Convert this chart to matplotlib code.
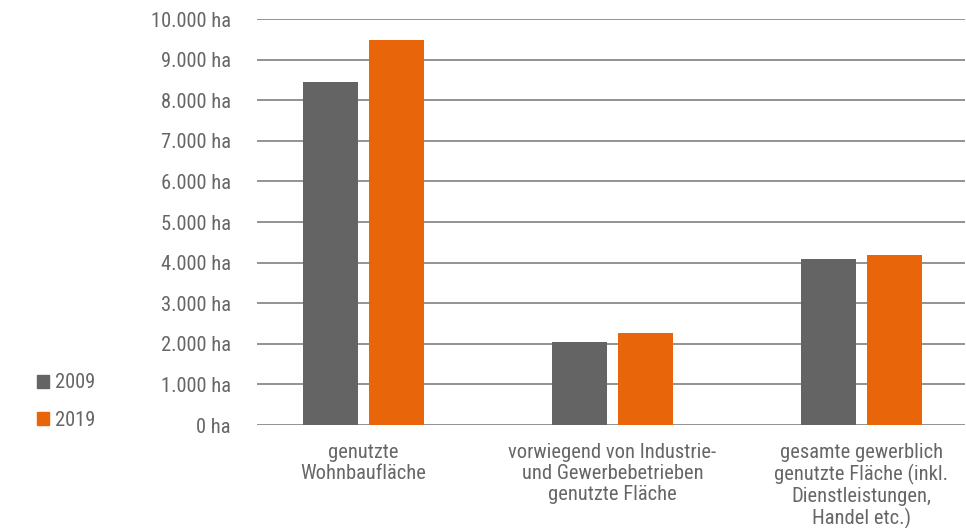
import matplotlib
matplotlib.use('Agg')
import matplotlib.pyplot as plt
from matplotlib.patches import Patch
from matplotlib.ticker import FuncFormatter

plt.rcParams['font.family'] = ['Roboto Condensed', 'Liberation Sans Narrow', 'DejaVu Sans']

# data
categories = ['genutzte\nWohnbaufläche',
              'vorwiegend von Industrie-\nund Gewerbebetrieben\ngenutzte Fläche',
              'gesamte gewerblich\ngenutzte Fläche (inkl.\nDienstleistungen,\nHandel etc.)']
years = ['2009', '2019']
values_2009 = [8450, 2040, 4090]
values_2019 = [9480, 2270, 4190]

gray = '#646464'
orange = '#e8650a'
text_color = '#666666'

fig = plt.figure(figsize=(9.66, 5.28), dpi=100)
ax = fig.add_axes([0.266, 0.195, 0.733, 0.769])

x = list(range(len(categories)))
w = 0.221
off = 0.1325
ax.bar([i - off for i in x], values_2009, width=w, color=gray, zorder=3)
ax.bar([i + off for i in x], values_2019, width=w, color=orange, zorder=3)

ax.set_ylim(0, 10000)
ax.set_xlim(-0.428, 2.416)
ax.set_yticks(range(0, 10001, 1000))
ax.yaxis.set_major_formatter(FuncFormatter(lambda v, p: f"{int(v):,} ha".replace(',', '.')))
ax.yaxis.grid(True, color='#8a8a8a', linewidth=1.3, zorder=0)
ax.set_xticks(x)
ax.set_xticklabels(categories, linespacing=1.12)
ax.tick_params(axis='both', length=0, labelsize=14.8, colors=text_color)
ax.tick_params(axis='y', pad=19)
ax.tick_params(axis='x', pad=13)
for s in ax.spines.values():
    s.set_visible(False)

handles = [Patch(color=gray), Patch(color=orange)]
fig.legend(handles, years, loc='upper left', bbox_to_anchor=(0.019, 0.328),
           frameon=False, fontsize=14.8, labelcolor=text_color,
           handlelength=0.6, handleheight=0.6, handletextpad=0.3,
           labelspacing=0.9)

fig.savefig('out.png', dpi=100)
